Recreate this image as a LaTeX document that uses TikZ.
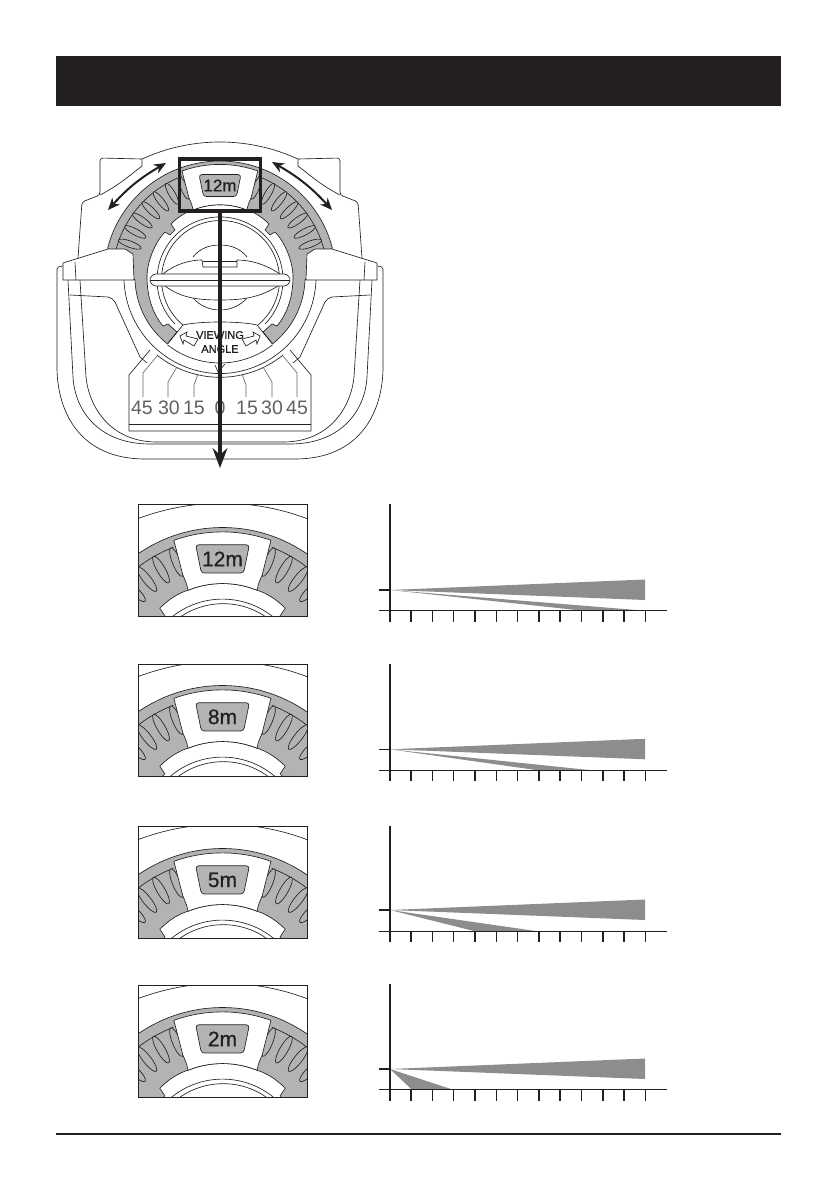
\documentclass[tikz,border=0pt]{standalone}
\usepackage{fontspec}
\setmainfont{Liberation Sans}
\newfontfamily\dialfont[FakeBold=0.7]{Liberation Sans}
\usetikzlibrary{arrows.meta}
\definecolor{inkblack}{HTML}{231F20}
\definecolor{ringgray}{HTML}{B4B3B3}
\definecolor{beamgray}{HTML}{8E8C8D}
\tikzset{
  thinline/.style={draw=inkblack,line width=0.65pt},
  axisline/.style={draw=inkblack,line width=1.5pt},
  scaletext/.style={text=black!62,font=\fontsize{19.5}{20}\selectfont},
  turnarrow/.style={inkblack,line width=2pt,{Stealth[length=12pt,width=10pt]}-{Stealth[length=12pt,width=10pt]}},
}
% one half of the ring, the other one is mirrored
\newcommand{\ringhalf}{
  \path[thinline,fill=ringgray] (1,-116) arc[start angle=-89.5,end angle=-165.5,radius=116]
    -- (-85,3) arc[start angle=178,end angle=128,radius=85]
    -- (-43,55) -- (-52,47) -- (-57,49)
    .. controls (-68,36) and (-73,18) .. (-73,0)
    .. controls (-73,-15) and (-65,-35) .. (-55,-45)
    -- (-50,-42) -- (-45,-47) -- (-49,-53)
    .. controls (-42,-60) and (-34,-65) .. (-27,-67) arc[start angle=-112,end angle=-89.5,radius=72];
  \draw[thinline] (-38.5,-100.5) arc[start angle=-111,end angle=-165,radius=107.5];
  \foreach \ang in {20,28,36,44,52,60,68}
    \draw[thinline,fill=ringgray,rotate around={-\ang:(0,0)}] (-96,0) ellipse[x radius=12,y radius=3.2];
  \draw[thinline] (0,-135) arc[start angle=-90,end angle=-114.6,radius=187];
}
\newcommand{\dialface}[2]{
  \path[thinline,fill=white] (-38,-106) arc[start angle=-109.7,end angle=-70.3,radius=112.5]
    -- (31,-79) .. controls (28,-72) .. (27,-67) arc[start angle=-68,end angle=-112,radius=72]
    .. controls (-28,-72) .. (-31,-79) -- cycle;
  \draw[thinline,fill=ringgray,rounded corners=3] (-21,-102.5) -- (21,-102.5) -- (16.5,-80.5) -- (-16.5,-80.5) -- cycle;
  \node[text=inkblack,font=\dialfont\fontsize{#1}{#1}\selectfont] (dialvalue) at (0,-91.5) {#2};
  \draw[thinline] (-45,47) arc[start angle=135.6,end angle=404.4,radius=63];
  \draw[thinline] (-37,48) arc[start angle=129.5,end angle=410.5,radius=59];
}
% the housing around the ring, left half
\newcommand{\bodyhalf}{
  \draw[thinline] (-78,-118) -- (-78,-111) .. controls (-92,-100) and (-104,-90) .. (-120,-82);
  \draw[thinline,rounded corners=3] (-78,-118) -- (-120,-119) -- (-120,-82) -- (-138,-75) -- (-142,-19);
  \draw[thinline,rounded corners=2] (-157,-11) -- (-163,-10) -- (-163,90);
  \draw[thinline] (-163,90) .. controls (-163,135) and (-140,182) .. (-75,182) -- (1,182);
  \draw[thinline] (-152,3) -- (-147,100) .. controls (-145,135) and (-120,167) .. (-70,167) -- (1,167);
  \draw[thinline] (-140,3) -- (-134,100) .. controls (-131,130) and (-110,164) .. (-65,165) -- (1,165);
  \draw[thinline] (-150,18) -- (-112,20) .. controls (-105,21) and (-104,28) .. (-100,36) -- (-80,80) -- (-73,86);
  \draw[thinline] (-96,3) arc[start angle=178,end angle=90,radius=97];
  \draw[thinline] (-63,78) arc[start angle=129,end angle=90,radius=100];
  \draw[thinline] (-70,73) -- (-91,98) -- (-91,154) -- (1,154);
  \draw[thinline] (-91,147) -- (1,147);
  \draw[thinline,draw=black!60] (-77,120) -- (-77,96) -- (-63,79);
  \draw[thinline,draw=black!60] (-52,120) -- (-52,105) -- (-43,90);
  \draw[thinline,draw=black!60] (-26,120) -- (-26,108) -- (-22,97);
  \path[thinline,fill=white] (-87,-23) -- (-95,-28) -- (-112,-28) -- (-157,-14) -- (-157,3) -- (-86,3) -- cycle;
  \draw[thinline] (-145,-15) -- (-144,3);
  \draw[thinline] (-37,48) -- (-52,66);
  \draw[thinline,fill=white] (-40,59) -- (-33,55) -- (-34,59) -- (-22,62) -- (-26,69) -- (-36,63) -- (-37,67) -- cycle;
}
\begin{document}
\begin{tikzpicture}[x=1pt,y=-1pt]
  \useasboundingbox (0,0) rectangle (839,1190);
  \fill[inkblack] (56,56) rectangle (781,106);
  \draw[inkblack,line width=1.6pt] (56,1134) -- (781,1134);
  % device
  \begin{scope}[shift={(220,277)}]
    \ringhalf
    \begin{scope}[xscale=-1] \ringhalf \end{scope}
    \dialface{17}{12m}
    \bodyhalf
    \begin{scope}[xscale=-1] \bodyhalf \end{scope}
    \draw[thinline] (-37,48) .. controls (-20,44) and (20,44) .. (37,48);
    \draw[thinline] (0,86) arc[start angle=90,end angle=128,radius=85];
    \draw[thinline] (0,86) arc[start angle=90,end angle=52,radius=85];
    \draw[thinline] (-5,88) -- (-2,95) -- (5,87);
    % lens and handle
    \draw[thinline] (-27,-20) .. controls (-20,-29) and (-10,-32) .. (0,-32) .. controls (10,-32) and (20,-29) .. (27,-20);
    \draw[thinline] (-27,21) .. controls (-20,29) and (-10,33) .. (0,33) .. controls (10,33) and (20,29) .. (27,21);
    \path[thinline,fill=white] (-57,-3) .. controls (-45,-13) and (-30,-17) .. (-18,-17) -- (-17,-10) -- (17,-10) -- (17,-17)
      .. controls (30,-17) and (45,-13) .. (60,-3) -- (58,9) .. controls (40,20) and (25,23) .. (0,23)
      .. controls (-25,23) and (-40,20) .. (-55,9) -- cycle;
    \draw[thinline] (-17,-15.5) -- (17,-15.5);
    \path[thinline,fill=white] (-64,-3) -- (64,-3) .. controls (68,-3) and (70,1) .. (70,3) .. controls (70,6) and (67,9) .. (64,9)
      -- (-64,9) .. controls (-67,9) and (-70,6) .. (-70,3) .. controls (-70,1) and (-68,-3) .. (-64,-3) -- cycle;
    \draw[thinline] (-70,3.5) -- (70,3.5);
    \node[text=inkblack,font=\dialfont\fontsize{11}{11}\selectfont] (viewtext) at (0,58) {VIEWING};
    \node[text=inkblack,font=\dialfont\fontsize{11}{11}\selectfont] (angletext) at (0,72) {ANGLE};
    \foreach \pos/\label in {-78/45,-51/30,-26/15,0/0,27/15,52/30,77/45}
      \node[scaletext] (scale\pos) at (\pos,131) {\label};
  \end{scope}
  % zoom box with the long arrow
  \node[draw=inkblack,line width=3.8pt,minimum width=81pt,minimum height=52pt,inner sep=0pt] (zoombox) at (220,185) {};
  \coordinate (arrowend) at (220,468);
  \draw[inkblack,line width=3.6pt,-{Stealth[length=20pt,width=15pt,inset=7pt]}] (zoombox.south) -- (arrowend);
  % turning arrows
  \coordinate (leftlow) at (108,210);
  \coordinate (lefthigh) at (166,163);
  \coordinate (rightlow) at (332,210);
  \coordinate (righthigh) at (272,162);
  \draw[turnarrow] (leftlow) to[bend left=9] (lefthigh);
  \draw[turnarrow] (rightlow) to[bend right=9] (righthigh);
  % dial crops
  \foreach \ptop/\cy/\dist in {504/676/12m,664/834/8m,826/997/5m,985/1156/2m} {
    \begin{scope}
      \clip (138,\ptop) rectangle (307,\ptop+112);
      \begin{scope}[shift={(222.5,\cy)},scale=1.28]
        \ringhalf
        \begin{scope}[xscale=-1] \ringhalf \end{scope}
        \dialface{21}{\dist}
      \end{scope}
    \end{scope}
    \draw[inkblack,line width=1pt] (138,\ptop) rectangle (307,\ptop+112);
  }
  % range charts
  \foreach \atop/\apex/\floor/\upper/\lower in {504/590/610.7/645/583,664/749.3/770.3/592/538,826/910/931.3/538/475,984/1069/1089.7/453/412} {
    \fill[beamgray] (390,\apex) -- (645,\apex-10.5) -- (645,\apex+10) -- cycle;
    \fill[beamgray] (390,\apex) -- (\upper,\floor) -- (\lower,\floor) -- cycle;
    \draw[axisline] (389.8,\atop) -- (389.8,\floor+11);
    \draw[axisline] (379,\floor) -- (667,\floor);
    \draw[axisline] (379,\apex) -- (389.8,\apex);
    \foreach \k in {1,...,12}
      \draw[axisline] (389.8+21.3*\k,\floor) -- (389.8+21.3*\k,\floor+11);
  }
\end{tikzpicture}
\end{document}
